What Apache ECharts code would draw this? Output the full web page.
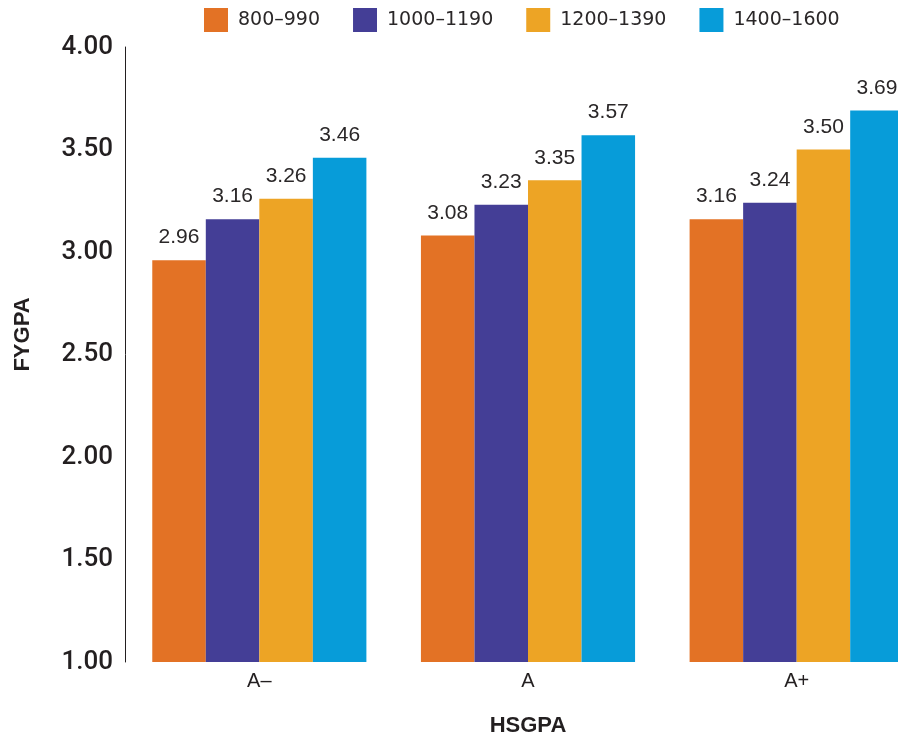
<!DOCTYPE html>
<html>
<head>
<meta charset="utf-8">
<script src="https://cdn.jsdelivr.net/npm/echarts@6/dist/echarts.min.js"></script>
<style>html,body{margin:0;padding:0;background:#fff;}#c{width:898px;height:740px;}</style>
</head>
<body>
<div id="c"></div>
<script>
var categories = ['A\u2013', 'A', 'A+'];
var seriesNames = ['800\u2013990', '1000\u20131190', '1200\u20131390', '1400\u20131600'];
var s800 = [2.96, 3.08, 3.16];
var s1000 = [3.16, 3.23, 3.24];
var s1200 = [3.26, 3.35, 3.50];
var s1400 = [3.46, 3.57, 3.69];
var yTicks = [1.00, 1.50, 2.00, 2.50, 3.00, 3.50, 4.00];
var colors = ['#E37225', '#443E96', '#EDA425', '#079CD9'];

var FONT = '"Liberation Sans", Arial, sans-serif';
var chart = echarts.init(document.getElementById('c'), null, {renderer: 'canvas'});
var allData = [s800, s1000, s1200, s1400];
var series = allData.map(function (d, i) {
  return {
    name: seriesNames[i],
    type: 'bar',
    data: d,
    barGap: '0%',
    barCategoryGap: '20.3%',
    itemStyle: {color: colors[i]},
    label: {
      show: true, position: 'top', distance: 12,
      formatter: function (p) { return p.value.toFixed(2); },
      fontFamily: FONT, fontSize: 21, color: '#2a2728'
    }
  };
});
chart.setOption({
  animation: false,
  color: colors,
  legend: {
    top: 3, left: 199,
    itemWidth: 24, itemHeight: 24, itemGap: 33,
    icon: 'rect',
    textStyle: {fontFamily: '"DejaVu Sans", sans-serif', fontSize: 19, color: '#2a2728', padding: [0, 0, 0, 5]},
    data: seriesNames
  },
  grid: {left: 125, width: 806, top: 47, bottom: 78, containLabel: false, outerBoundsMode: 'none'},
  xAxis: {
    type: 'category', data: categories,
    axisLine: {show: false}, axisTick: {show: false},
    axisLabel: {fontFamily: FONT, fontSize: 20, color: '#231f20', margin: 9},
    name: 'HSGPA', nameLocation: 'middle', nameGap: 53,
    nameTextStyle: {fontFamily: FONT, fontSize: 22, fontWeight: 'bold', color: '#231f20'}
  },
  yAxis: {
    type: 'value', min: 1, max: 4, interval: 0.5,
    axisLine: {show: true, lineStyle: {color: '#231f20', width: 1}},
    axisTick: {show: false}, splitLine: {show: false},
    axisLabel: {
      fontFamily: 'Roboto, sans-serif', fontWeight: 500, fontSize: 26, color: '#231f20', margin: 12,
      formatter: function (v) { return v.toFixed(2); }
    },
    name: 'FYGPA', nameLocation: 'middle', nameGap: 91,
    nameTextStyle: {fontFamily: FONT, fontSize: 22, fontWeight: 'bold', color: '#231f20', padding: [0, 0, 0, 40]}
  },
  series: series
});
</script>
</body>
</html>
